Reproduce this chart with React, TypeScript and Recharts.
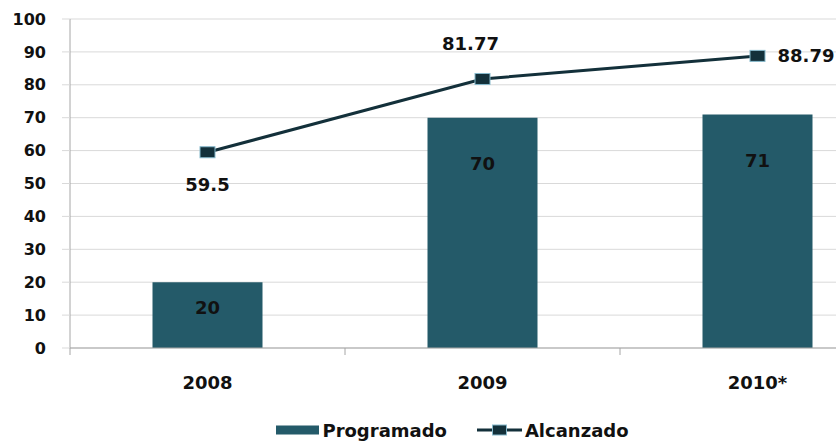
import { ComposedChart, Bar, Line, XAxis, YAxis, CartesianGrid, Legend, LabelList } from 'recharts'

const categories = ['2008', '2009', '2010*']
const programado = [20, 70, 71]
const alcanzado = [59.5, 81.77, 88.79]
const yTicks = [0, 10, 20, 30, 40, 50, 60, 70, 80, 90, 100]

const BAR_COLOR = '#245a69'
const LINE_COLOR = '#13303a'
const MARKER_EDGE = '#86b9cc'
const FONT = '"DejaVu Sans", Verdana, sans-serif'

// where the "Alcanzado" labels sit relative to their point
const lineLabelPlace = ['below', 'above', 'right']
// distance of the bar labels under the bar top
const barLabelDrop = [25, 46, 46]

const data = categories.map((year, i) => ({
  year,
  programado: programado[i],
  alcanzado: alcanzado[i],
}))

function XTick(props: any) {
  const { x, y, payload } = props
  const off = payload.offset ?? 0
  return (
    <g>
      <line x1={x - off} y1={y} x2={x - off} y2={y + 7} stroke="#a6a6a6" />
      <text x={x} y={y + 34} textAnchor="middle" dominantBaseline="central"
        fontFamily={FONT} fontWeight="bold" fontSize={18} fill="#111">
        {payload.value}
      </text>
    </g>
  )
}

function Marker(props: any) {
  const { cx, cy } = props
  if (cx == null || cy == null) return null
  return <rect x={cx - 7.5} y={cy - 5.5} width={15} height={11} fill={LINE_COLOR} stroke={MARKER_EDGE} strokeWidth={1} />
}

function LineLabel(props: any) {
  const { x, y, value, index } = props
  const place = lineLabelPlace[index]
  let tx = x, ty = y, anchor: 'middle' | 'start' = 'middle'
  if (place === 'below') ty = y + 32
  else if (place === 'above') { ty = y - 35; tx = x - 12 }
  else { tx = x + 20; anchor = 'start' }
  return (
    <text x={tx} y={ty} textAnchor={anchor} dominantBaseline="central"
      fontFamily={FONT} fontWeight="bold" fontSize={18} fill="#111">
      {value}
    </text>
  )
}

function BarLabel(props: any) {
  const { x, y, width, value, index } = props
  return (
    <text x={x + width / 2} y={y + barLabelDrop[index]} textAnchor="middle" dominantBaseline="central"
      fontFamily={FONT} fontWeight="bold" fontSize={18} fill="#111">
      {value}
    </text>
  )
}

function LegendContent() {
  const text = { fontFamily: FONT, fontWeight: 'bold' as const, fontSize: 18, color: '#111' }
  return (
    <div style={{ display: 'flex', justifyContent: 'center', alignItems: 'center', height: 24, paddingLeft: 10 }}>
      <svg width={43} height={10} style={{ marginRight: 3 }}>
        <rect x={0} y={0.5} width={43} height={9} fill={BAR_COLOR} />
      </svg>
      <span style={text}>Programado</span>
      <svg width={45} height={12} style={{ marginLeft: 30, marginRight: 3 }}>
        <line x1={0} y1={6} x2={45} y2={6} stroke={LINE_COLOR} strokeWidth={3} />
        <rect x={15.5} y={1} width={14} height={10} fill={LINE_COLOR} stroke={MARKER_EDGE} strokeWidth={1} />
      </svg>
      <span style={text}>Alcanzado</span>
    </div>
  )
}

export default function App() {
  return (
    <div style={{ position: 'fixed', left: 0, top: 0, width: 836, height: 442, overflow: 'hidden', background: '#fff' }}>
      <ComposedChart width={900} height={442} data={data}
        margin={{ top: 19, right: 5, left: 0, bottom: 0 }} barCategoryGap="30%">
        <CartesianGrid vertical={false} stroke="#d9d9d9" />
        <XAxis dataKey="year" height={70} tickLine={false} tickSize={0} tickMargin={0}
          axisLine={{ stroke: '#a6a6a6' }} tick={<XTick />} />
        <YAxis domain={[0, 100]} ticks={yTicks} width={70} interval={0}
          tickSize={8} tickMargin={16} tickLine={{ stroke: '#d9d9d9' }} axisLine={{ stroke: '#a6a6a6' }}
          tick={{ fontFamily: FONT, fontWeight: 'bold', fontSize: 16, fill: '#111' }} />
        <Legend verticalAlign="bottom" height={24} content={<LegendContent />} />
        <Bar dataKey="programado" name="Programado" fill={BAR_COLOR} isAnimationActive={false}>
          <LabelList dataKey="programado" content={<BarLabel />} />
        </Bar>
        <Line dataKey="alcanzado" name="Alcanzado" stroke={LINE_COLOR} strokeWidth={3}
          dot={<Marker />} activeDot={false} isAnimationActive={false}>
          <LabelList dataKey="alcanzado" content={<LineLabel />} />
        </Line>
      </ComposedChart>
    </div>
  )
}
